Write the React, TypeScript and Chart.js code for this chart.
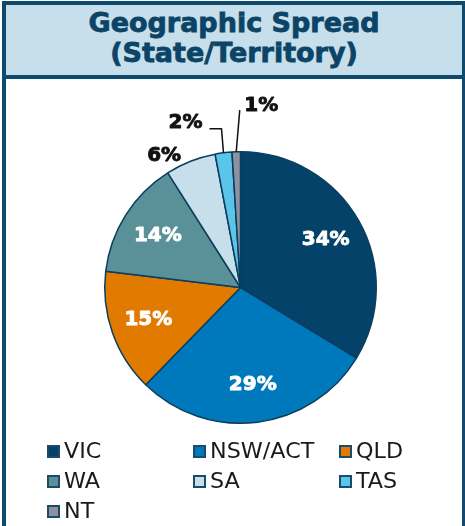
import React, { useEffect, useRef } from "react";
import { Chart, registerables } from "chart.js";

Chart.register(...registerables);

const categories = ["VIC", "NSW/ACT", "QLD", "WA", "SA", "TAS", "NT"];
const shares = [33.7, 28.6, 14.6, 14.1, 6.0, 2.0, 1.0];
const percentLabels = ["34%", "29%", "15%", "14%", "6%", "2%", "1%"];
const sliceColors = ["#04426A", "#0079BC", "#E07B00", "#5A9198", "#C7DFEB", "#5BC4E9", "#8E929E"];

const FONT = "'DejaVu Sans', Verdana, sans-serif";
const NAVY = "#0E4A6E";

function heavyText(ctx: CanvasRenderingContext2D, text: string, x: number, y: number, color: string) {
  ctx.fillStyle = color;
  ctx.strokeStyle = color;
  ctx.lineWidth = 0.9;
  ctx.lineJoin = "round";
  ctx.strokeText(text, x, y);
  ctx.fillText(text, x, y);
}

const labelPlugin = {
  id: "pieLabels",
  afterDatasetsDraw(chart: any) {
    const ctx = chart.ctx;
    const meta = chart.getDatasetMeta(0);
    ctx.save();
    meta.data.forEach((arc: any, i: number) => {
      const { x, y, startAngle, endAngle, outerRadius: r } = arc.getProps(
        ["x", "y", "startAngle", "endAngle", "outerRadius"],
        true
      );
      const mid = (startAngle + endAngle) / 2;
      const text = percentLabels[i];
      ctx.font = `bold 20px ${FONT}`;
      if (shares[i] >= 10) {
        ctx.textAlign = "center";
        ctx.textBaseline = "middle";
        const d = r * 0.72;
        heavyText(ctx, text, x + Math.cos(mid) * d, y + Math.sin(mid) * d, "#FFFFFF");
        return;
      }
      const px = x + Math.cos(mid) * r;
      const py = y + Math.sin(mid) * r;
      if (i === 4) {
        ctx.textAlign = "center";
        ctx.textBaseline = "middle";
        heavyText(ctx, text, x - 0.5625 * r, y - 0.967 * r, "#111111");
      } else if (i === 5) {
        const ey = y - 1.17 * r;
        const ex = px - 2;
        ctx.strokeStyle = "#111111";
        ctx.lineWidth = 1.5;
        ctx.beginPath();
        ctx.moveTo(px, py);
        ctx.lineTo(ex, ey);
        ctx.lineTo(ex - 12, ey);
        ctx.stroke();
        ctx.textAlign = "right";
        ctx.textBaseline = "middle";
        heavyText(ctx, text, ex - 19, ey - 5.5, "#111111");
      } else {
        const ey = y - 1.307 * r;
        const ex = px + 3.5;
        ctx.strokeStyle = "#111111";
        ctx.lineWidth = 1.5;
        ctx.beginPath();
        ctx.moveTo(px, py);
        ctx.lineTo(ex, ey);
        ctx.stroke();
        ctx.textAlign = "left";
        ctx.textBaseline = "middle";
        heavyText(ctx, text, ex + 4.5, ey - 4.5, "#111111");
      }
    });
    ctx.restore();
  },
};

export default function App() {
  const canvasRef = useRef<HTMLCanvasElement>(null);

  useEffect(() => {
    if (!canvasRef.current) return;
    const chart = new Chart(canvasRef.current, {
      type: "pie",
      data: {
        labels: categories,
        datasets: [
          {
            data: shares,
            backgroundColor: sliceColors,
            borderColor: "#0A3D5E",
            borderWidth: 1.5,
          },
        ],
      },
      options: {
        responsive: false,
        animation: false,
        layout: { padding: { left: 104, top: 151, right: 88, bottom: 102 } },
        plugins: {
          legend: { display: false },
          tooltip: { enabled: false },
          title: { display: false },
        },
      },
      plugins: [labelPlugin],
    });
    return () => chart.destroy();
  }, []);

  return (
    <div
      style={{
        position: "absolute",
        left: 0,
        top: 0,
        width: 465,
        height: 526,
        overflow: "hidden",
        background: "#FFFFFF",
        fontFamily: FONT,
      }}
    >
      <div
        style={{
          position: "absolute",
          left: 2,
          top: 1,
          width: 456,
          height: 540,
          borderLeft: `4px solid ${NAVY}`,
          borderTop: `4px solid ${NAVY}`,
          borderRight: `4px solid ${NAVY}`,
        }}
      />
      <div
        style={{
          position: "absolute",
          left: 6,
          top: 5,
          width: 456,
          height: 67,
          background: "#C6DFEB",
          borderBottom: `4px solid ${NAVY}`,
          textAlign: "center",
          color: "#0B4466",
          fontWeight: "bold",
          fontSize: 27,
          lineHeight: "30px",
          paddingTop: 3,
          boxSizing: "content-box",
          WebkitTextStroke: "0.8px #0B4466",
        }}
      >
        <div>Geographic Spread</div>
        <div>(State/Territory)</div>
      </div>
      <canvas
        ref={canvasRef}
        width={465}
        height={526}
        style={{ position: "absolute", left: 0, top: 0, width: 465, height: 526 }}
      />
      {categories.map((c, i) => {
        const col = i % 3;
        const row = Math.floor(i / 3);
        const left = 47 + col * 146;
        const top = 445 + row * 30;
        return (
          <React.Fragment key={c}>
            <div
              style={{
                position: "absolute",
                left,
                top,
                width: 13,
                height: 13,
                boxSizing: "border-box",
                border: "2px solid #1B4B6B",
                background: sliceColors[i],
              }}
            />
            <div
              style={{
                position: "absolute",
                left: left + 17,
                top: top - 4,
                fontSize: 21,
                lineHeight: "20px",
                color: "#1A1A1A",
                whiteSpace: "nowrap",
                transform: "scaleX(1.06)",
                transformOrigin: "left center",
              }}
            >
              {c}
            </div>
          </React.Fragment>
        );
      })}
    </div>
  );
}
